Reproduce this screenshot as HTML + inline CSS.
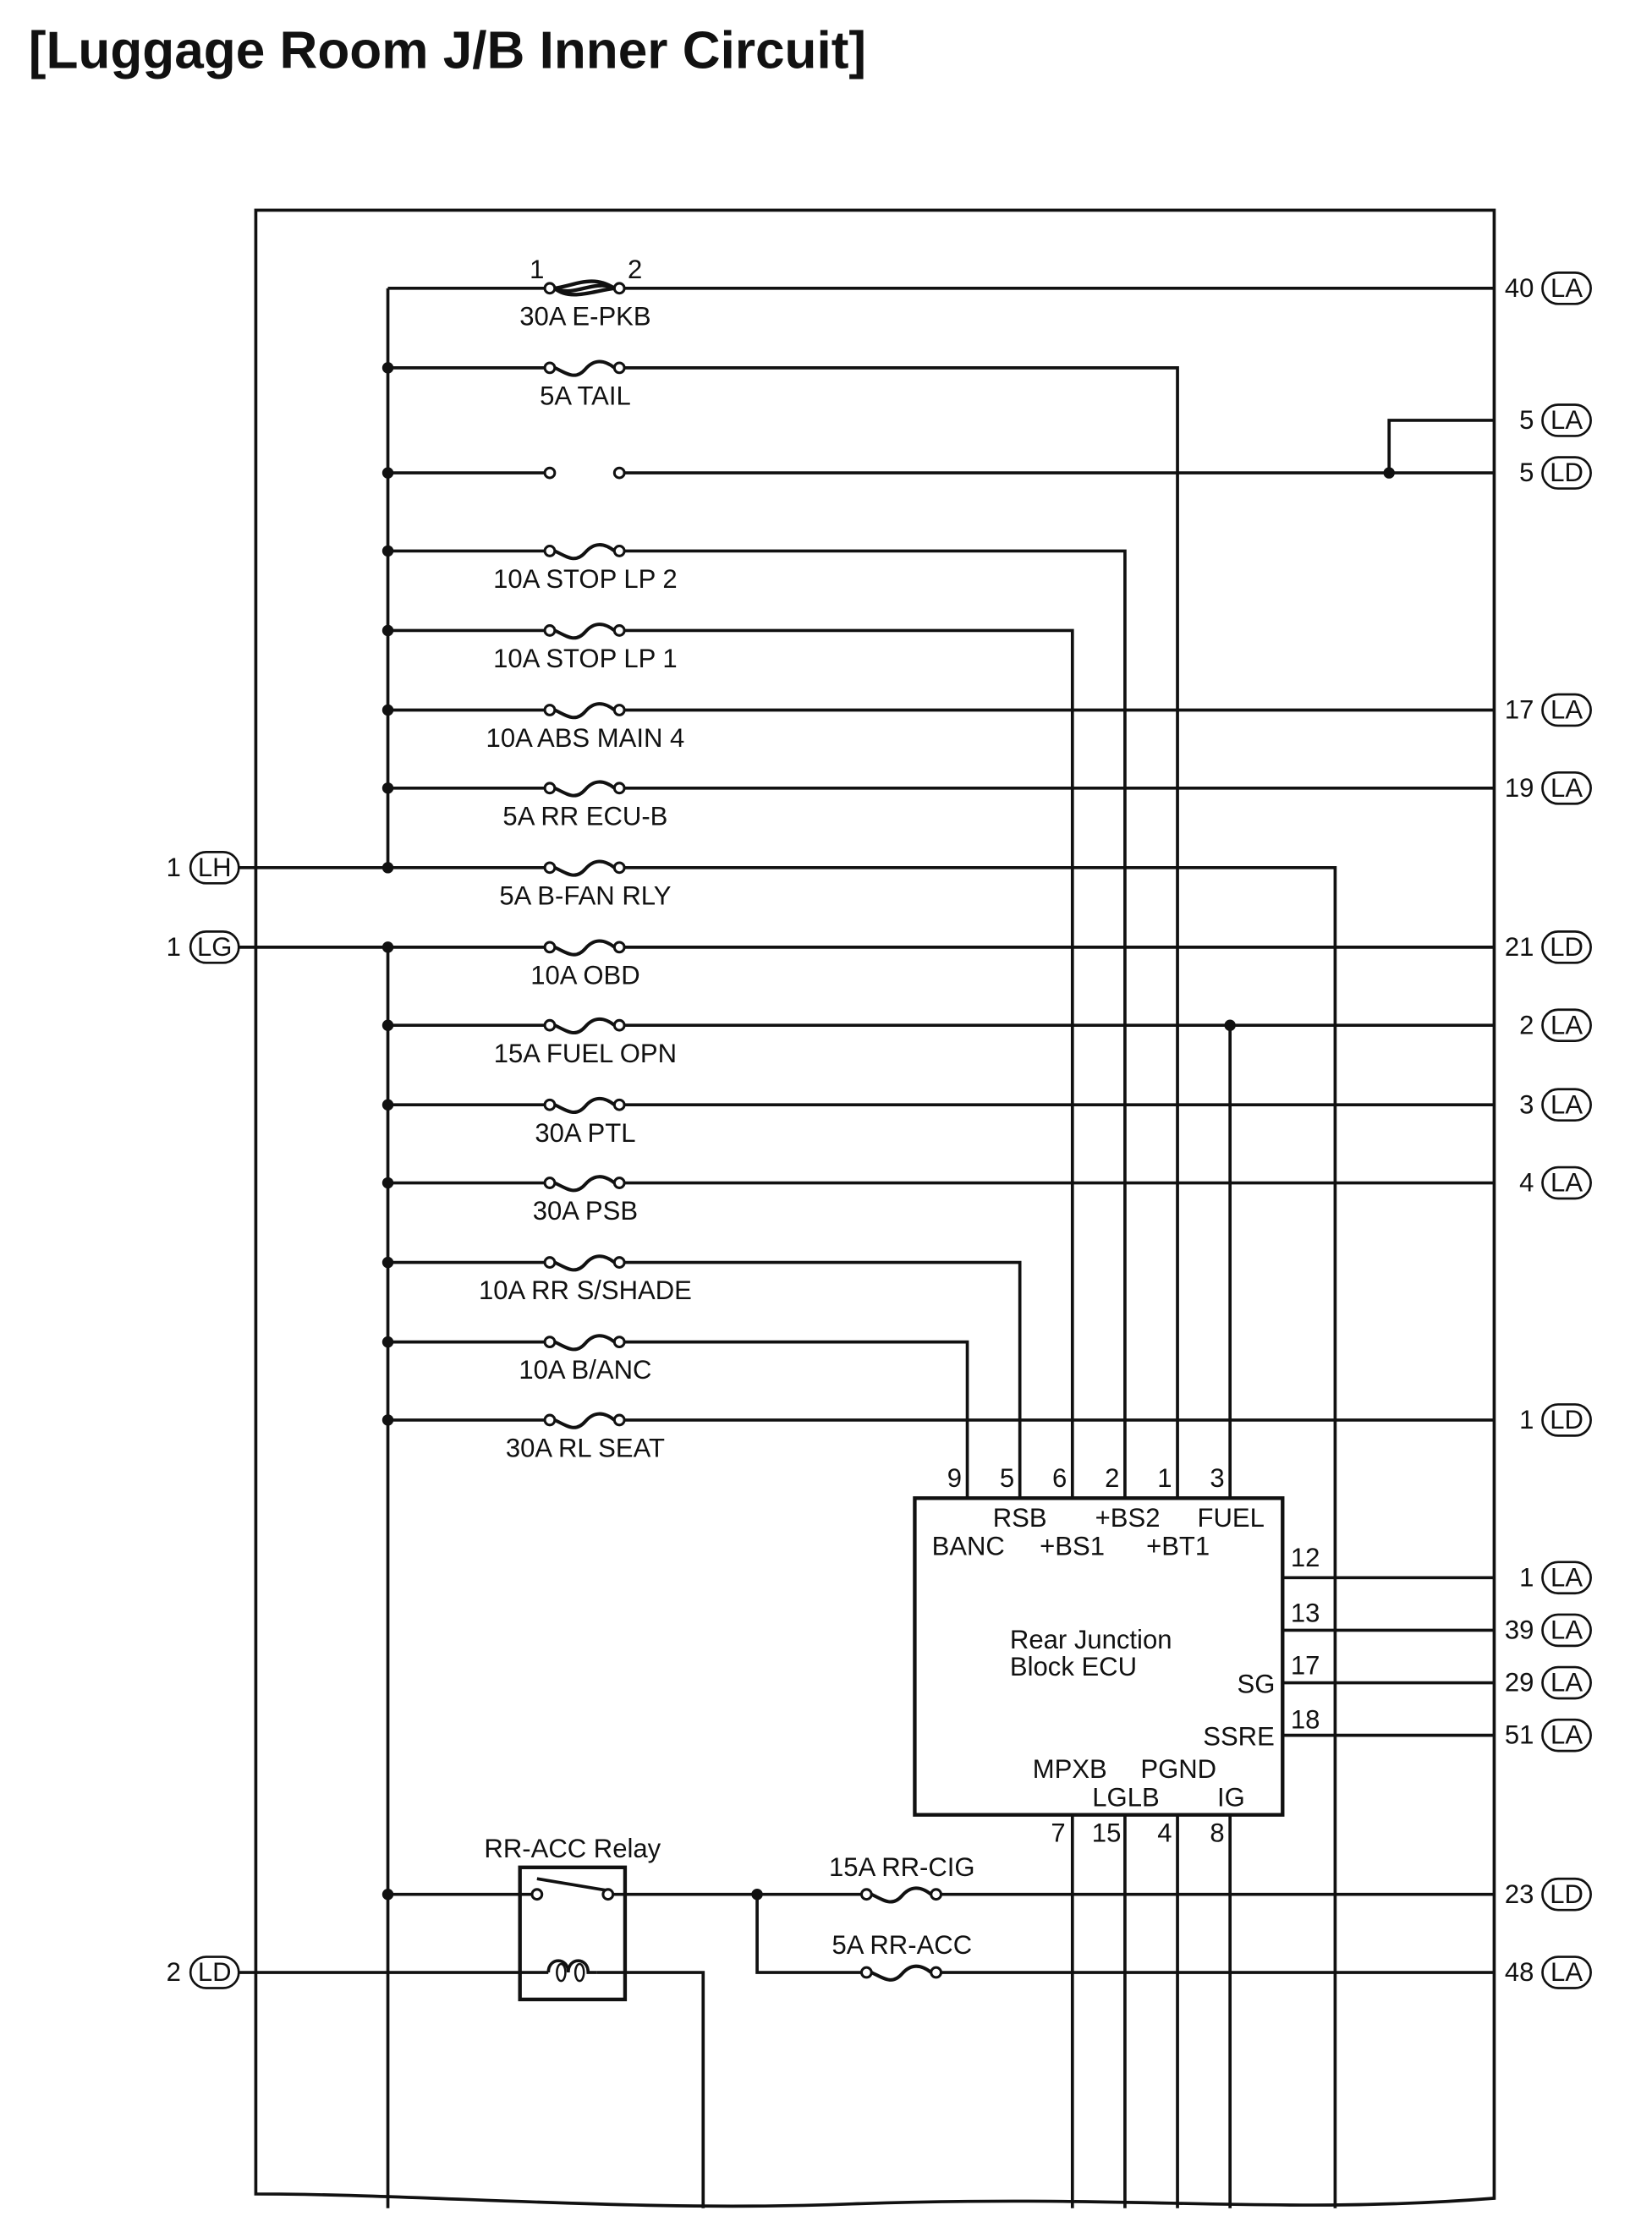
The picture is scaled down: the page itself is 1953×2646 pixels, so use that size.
<!DOCTYPE html>
<html><head><meta charset="utf-8"><style>
html,body{margin:0;padding:0;background:#fff}
svg{display:block}
text{font-family:"Liberation Sans",sans-serif;fill:#111}
</style></head><body>
<svg width="1953" height="2646" viewBox="0 0 1163 1576" xmlns="http://www.w3.org/2000/svg">
<defs>
<g id="fuse"><path d="M3.5,0 C12,4 18,9 25,1 C31,-6 38,-6 45.5,0" fill="none" stroke="#111" stroke-width="2.4"/><circle cx="0" cy="0" r="3.5" fill="#fff" stroke="#111" stroke-width="1.8"/><circle cx="49" cy="0" r="3.5" fill="#fff" stroke="#111" stroke-width="1.8"/></g>
<g id="pillR"><rect x="-17" y="-11" width="34" height="22" rx="11" fill="#fff" stroke="#111" stroke-width="1.6"/></g>
</defs>
<text x="20" y="48" font-size="37" font-weight="bold">[Luggage Room J/B Inner Circuit]</text>
<g stroke="#111" stroke-width="2.2" fill="none">
<path d="M180,148 L1052,148 L1052,1548 C900,1560 800,1545 600,1552 C450,1558 300,1545 180,1545 Z"/>
<line x1="273" y1="203" x2="273" y2="611"/>
<line x1="273" y1="667" x2="273" y2="1555"/>
<line x1="273" y1="203" x2="387" y2="203"/><line x1="436" y1="203" x2="1052" y2="203"/>
<line x1="273" y1="259" x2="387" y2="259"/><polyline points="436,259 829,259 829,1055"/>
<line x1="273" y1="333" x2="387" y2="333"/><line x1="436" y1="333" x2="1052" y2="333"/>
<polyline points="978,333 978,296 1052,296"/>
<line x1="273" y1="388" x2="387" y2="388"/><polyline points="436,388 792,388 792,1055"/>
<line x1="273" y1="444" x2="387" y2="444"/><polyline points="436,444 755,444 755,1055"/>
<line x1="273" y1="500" x2="387" y2="500"/><line x1="436" y1="500" x2="1052" y2="500"/>
<line x1="273" y1="555" x2="387" y2="555"/><line x1="436" y1="555" x2="1052" y2="555"/>
<line x1="168" y1="611" x2="387" y2="611"/><polyline points="436,611 940,611 940,1555"/>
<line x1="168" y1="667" x2="387" y2="667"/><line x1="436" y1="667" x2="1052" y2="667"/>
<line x1="273" y1="722" x2="387" y2="722"/><line x1="436" y1="722" x2="1052" y2="722"/><line x1="866" y1="722" x2="866" y2="1055"/>
<line x1="273" y1="778" x2="387" y2="778"/><line x1="436" y1="778" x2="1052" y2="778"/>
<line x1="273" y1="833" x2="387" y2="833"/><line x1="436" y1="833" x2="1052" y2="833"/>
<line x1="273" y1="889" x2="387" y2="889"/><polyline points="436,889 718,889 718,1055"/>
<line x1="273" y1="945" x2="387" y2="945"/><polyline points="436,945 681,945 681,1055"/>
<line x1="273" y1="1000" x2="387" y2="1000"/><line x1="436" y1="1000" x2="1052" y2="1000"/>
<rect x="644" y="1055" width="259" height="223" stroke-width="2.6"/>
<line x1="903" y1="1111" x2="1052" y2="1111"/>
<line x1="903" y1="1148" x2="1052" y2="1148"/>
<line x1="903" y1="1185" x2="1052" y2="1185"/>
<line x1="903" y1="1222" x2="1052" y2="1222"/>
<line x1="755" y1="1278" x2="755" y2="1555"/>
<line x1="792" y1="1278" x2="792" y2="1555"/>
<line x1="829" y1="1278" x2="829" y2="1555"/>
<line x1="866" y1="1278" x2="866" y2="1555"/>
<rect x="366" y="1315" width="74" height="93" stroke-width="2.6"/>
<line x1="273" y1="1334" x2="375" y2="1334"/>
<line x1="378" y1="1323" x2="426" y2="1331"/>
<line x1="431" y1="1334" x2="610" y2="1334"/><line x1="659" y1="1334" x2="1052" y2="1334"/>
<polyline points="533,1334 533,1389 610,1389"/><line x1="659" y1="1389" x2="1052" y2="1389"/>
<line x1="168" y1="1389" x2="386" y2="1389"/>
<path d="M386,1389 C386,1378 400,1378 400,1389 C400,1378 414,1378 414,1389 L420,1389" />
<ellipse cx="395" cy="1389" rx="3" ry="6" stroke-width="1.5"/><ellipse cx="408" cy="1389" rx="3" ry="6" stroke-width="1.5"/>
<polyline points="420,1389 495,1389 495,1555"/>
</g>
<circle cx="378" cy="1334" r="3.5" fill="#fff" stroke="#111" stroke-width="1.8"/>
<circle cx="428" cy="1334" r="3.5" fill="#fff" stroke="#111" stroke-width="1.8"/>
<g transform="translate(387,203)"><path d="M3.5,0 C14,9 30,2 45.5,0 M3.5,0 C18,-2 30,-10 45.5,0 M5,1 C18,5 30,-5 44,-1" fill="none" stroke="#111" stroke-width="2.6"/><circle cx="0" cy="0" r="3.5" fill="#fff" stroke="#111" stroke-width="1.8"/><circle cx="49" cy="0" r="3.5" fill="#fff" stroke="#111" stroke-width="1.8"/></g>
<circle cx="387" cy="333" r="3.5" fill="#fff" stroke="#111" stroke-width="1.8"/>
<circle cx="436" cy="333" r="3.5" fill="#fff" stroke="#111" stroke-width="1.8"/>
<use href="#fuse" x="387" y="259"/><use href="#fuse" x="387" y="388"/><use href="#fuse" x="387" y="444"/>
<use href="#fuse" x="387" y="500"/><use href="#fuse" x="387" y="555"/><use href="#fuse" x="387" y="611"/>
<use href="#fuse" x="387" y="667"/><use href="#fuse" x="387" y="722"/><use href="#fuse" x="387" y="778"/>
<use href="#fuse" x="387" y="833"/><use href="#fuse" x="387" y="889"/><use href="#fuse" x="387" y="945"/>
<use href="#fuse" x="387" y="1000"/><use href="#fuse" x="610" y="1334"/><use href="#fuse" x="610" y="1389"/>
<g fill="#111">
<circle cx="273" cy="259" r="4"/><circle cx="273" cy="333" r="4"/><circle cx="273" cy="388" r="4"/>
<circle cx="273" cy="444" r="4"/><circle cx="273" cy="500" r="4"/><circle cx="273" cy="555" r="4"/>
<circle cx="273" cy="611" r="4"/><circle cx="273" cy="667" r="4"/><circle cx="273" cy="722" r="4"/>
<circle cx="273" cy="778" r="4"/><circle cx="273" cy="833" r="4"/><circle cx="273" cy="889" r="4"/>
<circle cx="273" cy="945" r="4"/><circle cx="273" cy="1000" r="4"/><circle cx="273" cy="1334" r="4"/>
<circle cx="978" cy="333" r="4"/><circle cx="866" cy="722" r="4"/><circle cx="533" cy="1334" r="4"/>
</g>
<g font-size="18.5" text-anchor="middle">
<text x="378" y="196">1</text><text x="447" y="196">2</text>
<text x="412" y="229">30A E-PKB</text><text x="412" y="285">5A TAIL</text>
<text x="412" y="414">10A STOP LP 2</text><text x="412" y="470">10A STOP LP 1</text>
<text x="412" y="526">10A ABS MAIN 4</text><text x="412" y="581">5A RR ECU-B</text>
<text x="412" y="637">5A B-FAN RLY</text><text x="412" y="693">10A OBD</text>
<text x="412" y="748">15A FUEL OPN</text><text x="412" y="804">30A PTL</text>
<text x="412" y="859">30A PSB</text><text x="412" y="915">10A RR S/SHADE</text>
<text x="412" y="971">10A B/ANC</text><text x="412" y="1026">30A RL SEAT</text>
<text x="403" y="1308">RR-ACC Relay</text>
<text x="635" y="1321">15A RR-CIG</text><text x="635" y="1376">5A RR-ACC</text>
<text x="672" y="1047">9</text><text x="709" y="1047">5</text><text x="746" y="1047">6</text>
<text x="783" y="1047">2</text><text x="820" y="1047">1</text><text x="857" y="1047">3</text>
<text x="745" y="1297">7</text><text x="779" y="1297">15</text><text x="820" y="1297">4</text><text x="857" y="1297">8</text>
<text x="919" y="1103">12</text><text x="919" y="1142">13</text><text x="919" y="1179">17</text><text x="919" y="1217">18</text>
</g>
<g font-size="18.5">
<text x="699" y="1075">RSB</text><text x="771" y="1075">+BS2</text><text x="843" y="1075">FUEL</text>
<text x="656" y="1095">BANC</text><text x="732" y="1095">+BS1</text><text x="807" y="1095">+BT1</text>
<text x="711" y="1161">Rear Junction</text><text x="711" y="1180">Block ECU</text>
<text x="871" y="1192">SG</text><text x="847" y="1229">SSRE</text>
<text x="727" y="1252">MPXB</text><text x="803" y="1252">PGND</text>
<text x="769" y="1272">LGLB</text><text x="857" y="1272">IG</text>
</g>
<g font-size="18.5">
<use href="#pillR" x="151" y="611"/><text x="151" y="617" text-anchor="middle">LH</text><text x="117" y="617">1</text>
<use href="#pillR" x="151" y="667"/><text x="151" y="673" text-anchor="middle">LG</text><text x="117" y="673">1</text>
<use href="#pillR" x="151" y="1389"/><text x="151" y="1395" text-anchor="middle">LD</text><text x="117" y="1395">2</text>
</g>
<g font-size="18.5">
<use href="#pillR" x="1103" y="203"/><text x="1103" y="209" text-anchor="middle">LA</text><text x="1080" y="209" text-anchor="end">40</text>
<use href="#pillR" x="1103" y="296"/><text x="1103" y="302" text-anchor="middle">LA</text><text x="1080" y="302" text-anchor="end">5</text>
<use href="#pillR" x="1103" y="333"/><text x="1103" y="339" text-anchor="middle">LD</text><text x="1080" y="339" text-anchor="end">5</text>
<use href="#pillR" x="1103" y="500"/><text x="1103" y="506" text-anchor="middle">LA</text><text x="1080" y="506" text-anchor="end">17</text>
<use href="#pillR" x="1103" y="555"/><text x="1103" y="561" text-anchor="middle">LA</text><text x="1080" y="561" text-anchor="end">19</text>
<use href="#pillR" x="1103" y="667"/><text x="1103" y="673" text-anchor="middle">LD</text><text x="1080" y="673" text-anchor="end">21</text>
<use href="#pillR" x="1103" y="722"/><text x="1103" y="728" text-anchor="middle">LA</text><text x="1080" y="728" text-anchor="end">2</text>
<use href="#pillR" x="1103" y="778"/><text x="1103" y="784" text-anchor="middle">LA</text><text x="1080" y="784" text-anchor="end">3</text>
<use href="#pillR" x="1103" y="833"/><text x="1103" y="839" text-anchor="middle">LA</text><text x="1080" y="839" text-anchor="end">4</text>
<use href="#pillR" x="1103" y="1000"/><text x="1103" y="1006" text-anchor="middle">LD</text><text x="1080" y="1006" text-anchor="end">1</text>
<use href="#pillR" x="1103" y="1111"/><text x="1103" y="1117" text-anchor="middle">LA</text><text x="1080" y="1117" text-anchor="end">1</text>
<use href="#pillR" x="1103" y="1148"/><text x="1103" y="1154" text-anchor="middle">LA</text><text x="1080" y="1154" text-anchor="end">39</text>
<use href="#pillR" x="1103" y="1185"/><text x="1103" y="1191" text-anchor="middle">LA</text><text x="1080" y="1191" text-anchor="end">29</text>
<use href="#pillR" x="1103" y="1222"/><text x="1103" y="1228" text-anchor="middle">LA</text><text x="1080" y="1228" text-anchor="end">51</text>
<use href="#pillR" x="1103" y="1334"/><text x="1103" y="1340" text-anchor="middle">LD</text><text x="1080" y="1340" text-anchor="end">23</text>
<use href="#pillR" x="1103" y="1389"/><text x="1103" y="1395" text-anchor="middle">LA</text><text x="1080" y="1395" text-anchor="end">48</text>
</g>
</svg>
</body></html>
